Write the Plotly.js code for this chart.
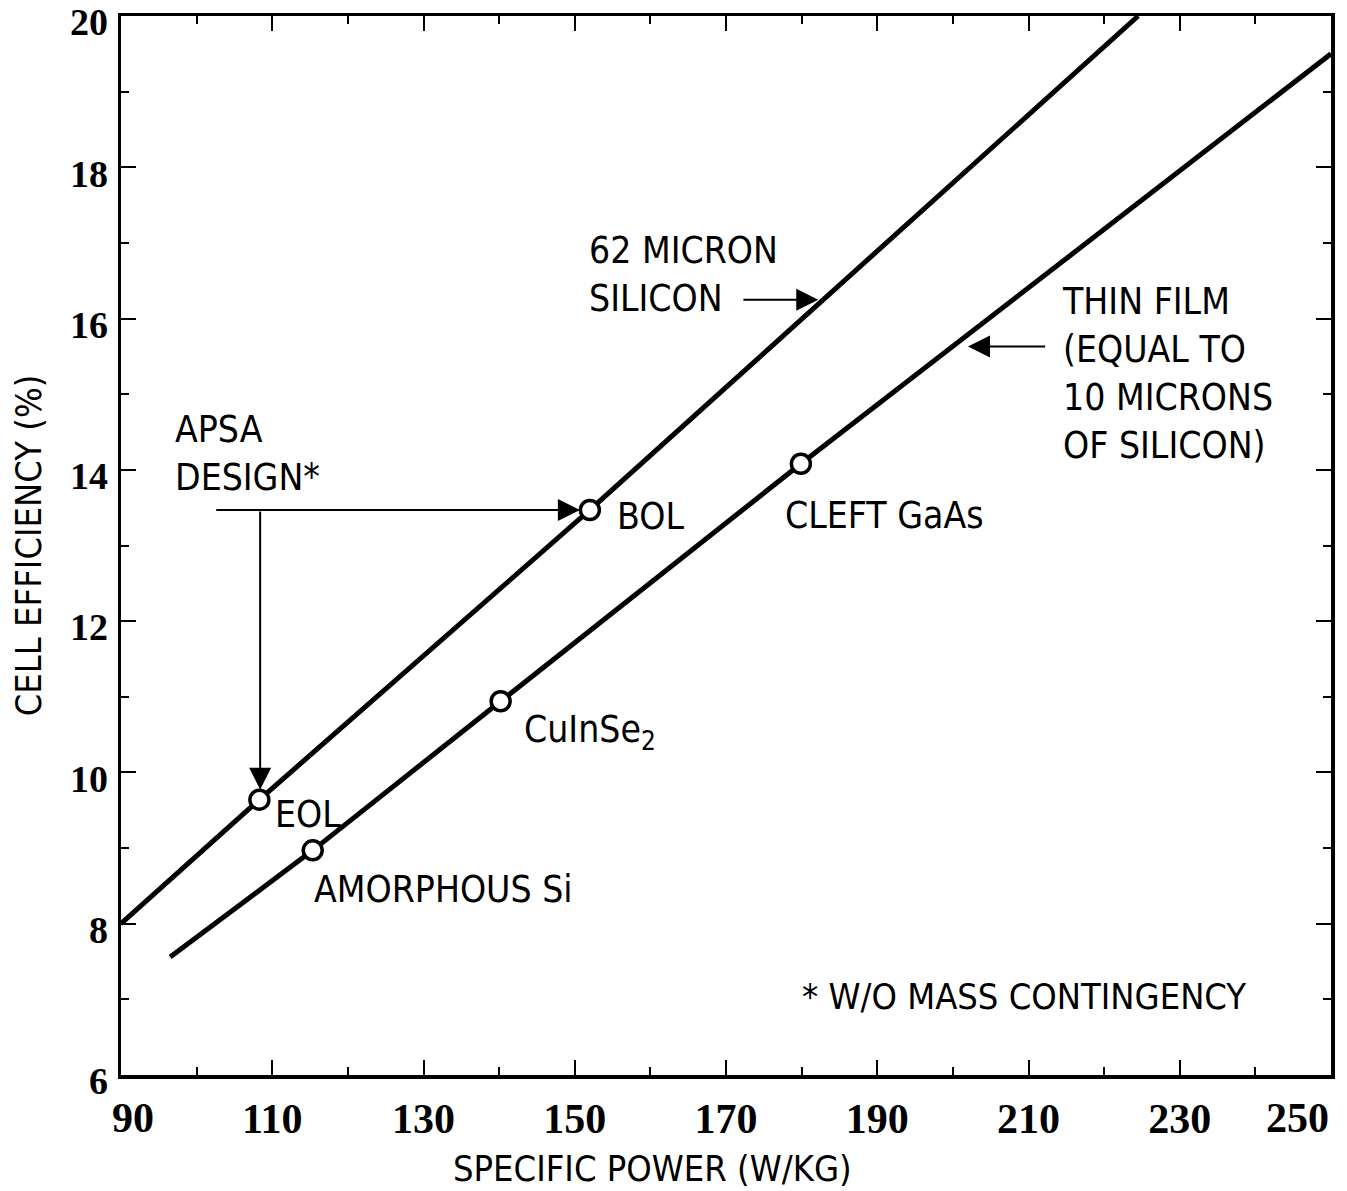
<!DOCTYPE html>
<html>
<head>
<meta charset="utf-8">
<script src="https://cdn.plot.ly/plotly-3.0.1.min.js"></script>
<style>
  html, body { margin: 0; padding: 0; background: #fff; }
  #chart { width: 1347px; height: 1191px; }
</style>
</head>
<body>
<div id="chart"></div>
<script>
// ---- data ----
const siliconX = [90, 108.3, 152.0, 224.5];           // 62 micron silicon line (W/kg)
const siliconY = [8.0, 9.64, 13.47, 20.0];            // cell efficiency (%)
const thinFilmX = [96.5, 115.35, 140.2, 179.9, 250];  // thin film line
const thinFilmY = [7.56, 8.97, 10.94, 14.08, 19.5];
const pointNames = ['EOL', 'BOL', 'AMORPHOUS Si', 'CuInSe2', 'CLEFT GaAs'];
const pointX = [108.3, 152.0, 115.35, 140.2, 179.9];
const pointY = [9.64, 13.47, 8.97, 10.94, 14.08];
const xTickVals = [90, 110, 130, 150, 170, 190, 210, 230, 250];
const xTickLabels = ['90', '110', '130', '150', '170', '190', '210', '230', '250'];
const xMinorVals = [100, 120, 140, 160, 180, 200, 220, 240];
const yTickVals = [6, 8, 10, 12, 14, 16, 18, 20];
const yTickLabels = ['6', '8', '10', '12', '14', '16', '18', '20'];
const yMinorVals = [7, 9, 11, 13, 15, 17, 19];

const FONT = "'DejaVu Sans Condensed', 'Liberation Sans Narrow', sans-serif";
const NUMFONT = "'Liberation Serif', 'DejaVu Serif', serif";
const lastX = xTickLabels.length - 1;

// the two corner labels are drawn as annotations nudged inward (as in the reference)
const xTickText = xTickLabels.map((t, i) => (i === 0 || i === lastX) ? '' : t);

const traces = [
  { x: siliconX, y: siliconY, mode: 'lines', line: { color: '#000', width: 5 }, name: '62 micron silicon' },
  { x: thinFilmX, y: thinFilmY, mode: 'lines', line: { color: '#000', width: 5 }, name: 'thin film' },
  { x: pointX, y: pointY, text: pointNames, mode: 'markers', name: 'cells',
    marker: { symbol: 'circle', size: 19, color: '#fff', line: { color: '#000', width: 3.5 } } }
];

const txt = (text, x, y, size) => ({
  text, x, y, xref: 'x', yref: 'y', xanchor: 'left', yanchor: 'middle', showarrow: false, align: 'left',
  font: { family: FONT, size: size || 37, color: '#000' }
});
const arrow = (x, y, ax, ay, standoff) => ({
  text: '', x, y, ax, ay, xref: 'x', yref: 'y', axref: 'x', ayref: 'y',
  showarrow: true, arrowhead: 2, arrowsize: 2.2, arrowwidth: 2, arrowcolor: '#000', standoff: standoff || 0
});
const cornerTick = (i, xanchor, xshift) => ({
  text: xTickLabels[i], x: xTickVals[i], xref: 'x', yref: 'paper', y: 0, yshift: -18, xshift,
  xanchor, yanchor: 'top', showarrow: false,
  font: { family: NUMFONT, size: 42, weight: 'bold', color: '#000' }
});

const annotations = [
  txt('APSA<br>DESIGN*', 96.9, 14.22),
  txt('BOL', 155.3, 13.39),
  txt('CLEFT GaAs', 177.5, 13.40),
  txt('CuInSe<sub>2</sub>', 143.0, 10.54),
  txt('EOL', 110.1, 9.44),
  txt('AMORPHOUS Si', 115.3, 8.455),
  txt('62 MICRON<br>SILICON', 151.6, 16.58),
  txt('THIN FILM<br>(EQUAL TO<br>10 MICRONS<br>OF SILICON)', 214.2, 15.27),
  txt('* W/O MASS CONTINGENCY', 179.8, 7.04, 36),
  arrow(182.2, 16.25, 172.1, 16.25),
  arrow(202.0, 15.63, 212.4, 15.63),
  arrow(152.0, 13.47, 102.4, 13.47, 10),
  arrow(108.4, 9.64, 108.4, 13.47, 10),
  cornerTick(0, 'center', 12),
  cornerTick(lastX, 'right', 0),
  { text: 'SPECIFIC POWER (W/KG)', xref: 'paper', yref: 'paper', x: (652 - 121) / 1210, y: -0.088,
    xanchor: 'center', yanchor: 'middle', showarrow: false,
    font: { family: FONT, size: 36, color: '#000' } }
];

const layout = {
  width: 1347, height: 1191,
  margin: { l: 121, r: 16, t: 16, b: 116 },
  paper_bgcolor: '#fff', plot_bgcolor: '#fff',
  showlegend: false,
  font: { family: FONT, color: '#000' },
  xaxis: {
    range: [90, 250], tickvals: xTickVals, ticktext: xTickText,
    ticks: 'inside', ticklen: 15, tickwidth: 2, tickcolor: '#000',
    minor: { tickvals: xMinorVals, ticks: 'inside', ticklen: 8, tickwidth: 2, tickcolor: '#000' },
    showline: true, linewidth: 3.5, linecolor: '#000', mirror: 'ticks',
    showgrid: false, zeroline: false, ticklabeloverflow: 'allow',
    tickfont: { family: NUMFONT, size: 42, weight: 'bold', color: '#000' },
    ticklabelstandoff: 4
  },
  yaxis: {
    range: [6, 20], tickvals: yTickVals, ticktext: yTickLabels,
    ticks: 'inside', ticklen: 15, tickwidth: 2, tickcolor: '#000',
    minor: { tickvals: yMinorVals, ticks: 'inside', ticklen: 8, tickwidth: 2, tickcolor: '#000' },
    showline: true, linewidth: 3.5, linecolor: '#000', mirror: 'ticks',
    showgrid: false, zeroline: false, ticklabeloverflow: 'allow',
    tickfont: { family: NUMFONT, size: 38, weight: 'bold', color: '#000' },
    ticklabelstandoff: 2, ticklabelshift: 6,
    title: { text: 'CELL EFFICIENCY (%)', font: { family: FONT, size: 36, color: '#000' }, standoff: 18 }
  },
  annotations
};

Plotly.newPlot('chart', traces, layout, { displayModeBar: false, staticPlot: true });
</script>
</body>
</html>
